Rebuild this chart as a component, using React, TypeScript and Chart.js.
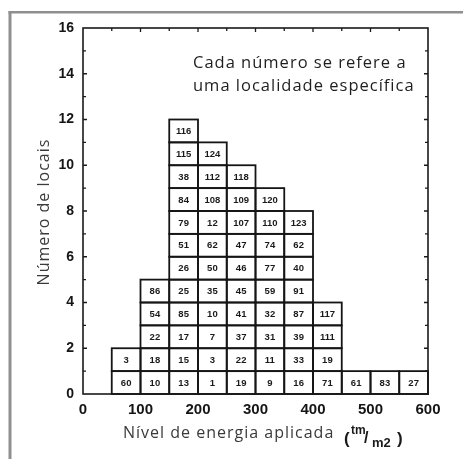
import React, { useEffect, useRef } from "react";
import { Chart, registerables } from "chart.js";

Chart.register(...registerables);

// Histogram of sites by applied energy level; each cell is one site, stacked bottom to top.
const binStarts = [50, 100, 150, 200, 250, 300, 350, 400, 450, 500, 550];
const binWidth = 50;

const sites50 = [60, 3];
const sites100 = [10, 18, 22, 54, 86];
const sites150 = [13, 15, 17, 85, 25, 26, 51, 79, 84, 38, 115, 116];
const sites200 = [1, 3, 7, 10, 35, 50, 62, 12, 108, 112, 124];
const sites250 = [19, 22, 37, 41, 45, 46, 47, 107, 109, 118];
const sites300 = [9, 11, 31, 32, 59, 77, 74, 110, 120];
const sites350 = [16, 33, 39, 87, 91, 40, 62, 123];
const sites400 = [71, 19, 111, 117];
const sites450 = [61];
const sites500 = [83];
const sites550 = [27];

const columns = [
  sites50, sites100, sites150, sites200, sites250, sites300,
  sites350, sites400, sites450, sites500, sites550,
];

const xTickValues = [0, 100, 200, 300, 400, 500, 600];
const yTickValues = [0, 2, 4, 6, 8, 10, 12, 14, 16];

const noteLines = ["Cada número se refere a", "uma localidade específica"];
const xTitle = "Nível de energia aplicada";
const yTitle = "Número de locais";

const tickFont = '"Liberation Sans", Arial, sans-serif';
const textFont = '"Open Sans", "Noto Sans", sans-serif';

export default function App() {
  const canvasRef = useRef<HTMLCanvasElement | null>(null);

  useEffect(() => {
    const canvas = canvasRef.current;
    if (!canvas) return;

    const levels = Math.max(...columns.map((c) => c.length));
    const datasets = [];
    for (let k = 0; k < levels; k++) {
      const pts: { x: number; y: number; site: number }[] = [];
      columns.forEach((col, i) => {
        if (col.length > k) {
          pts.push({ x: binStarts[i] + binWidth / 2, y: 1, site: col[k] });
        }
      });
      datasets.push({
        label: "nível " + k,
        data: pts,
        backgroundColor: "#ffffff",
        borderWidth: 0,
        barPercentage: 1,
        categoryPercentage: 1,
      });
    }

    const framePlugin = {
      id: "frame",
      beforeDraw(chart: any) {
        const ctx = chart.ctx;
        ctx.save();
        ctx.fillStyle = "#ffffff";
        ctx.fillRect(0, 0, chart.width, chart.height);
        ctx.fillStyle = "#8f8f8f";
        ctx.fillRect(8.5, 11, 3, chart.height);
        ctx.fillRect(8.5, 11, chart.width, 2.5);
        ctx.restore();
      },
    };

    const cellPlugin = {
      id: "cells",
      afterDatasetsDraw(chart: any) {
        const ctx = chart.ctx;
        ctx.save();
        ctx.strokeStyle = "#151515";
        ctx.lineWidth = 1.8;
        chart.data.datasets.forEach((ds: any, di: number) => {
          const meta = chart.getDatasetMeta(di);
          meta.data.forEach((el: any, j: number) => {
            const p = el.getProps(["x", "y", "base", "width"], true);
            const left = p.x - p.width / 2;
            const top = Math.min(p.y, p.base);
            const h = Math.abs(p.base - p.y);
            ctx.strokeRect(left, top, p.width, h);
            ctx.fillStyle = "#1a1a1a";
            ctx.font = "bold 9.5px " + tickFont;
            ctx.textAlign = "center";
            ctx.textBaseline = "middle";
            ctx.fillText(String(ds.data[j].site), p.x, top + h / 2 + 0.5);
          });
        });
        ctx.restore();
      },
    };

    const axesPlugin = {
      id: "axesBox",
      afterDraw(chart: any) {
        const ctx = chart.ctx;
        const { left, right, top, bottom } = chart.chartArea;
        const xs = chart.scales.x;
        const ys = chart.scales.y;
        ctx.save();
        ctx.strokeStyle = "#1a1a1a";
        ctx.lineWidth = 1.6;
        ctx.strokeRect(left, top, right - left, bottom - top);

        // inward ticks: left and right every unit, top every bin width
        ctx.lineWidth = 1.3;
        ctx.beginPath();
        for (let v = 1; v < 16; v++) {
          const y = ys.getPixelForValue(v);
          const len = v % 2 === 0 ? 4 : 3;
          ctx.moveTo(left, y);
          ctx.lineTo(left + len, y);
          ctx.moveTo(right, y);
          ctx.lineTo(right - len, y);
        }
        for (let v = binWidth; v < 600; v += binWidth) {
          const x = xs.getPixelForValue(v);
          const len = v % 100 === 0 ? 4 : 3;
          ctx.moveTo(x, top);
          ctx.lineTo(x, top + len);
        }
        ctx.stroke();

        // note
        ctx.fillStyle = "#1e1e1e";
        ctx.font = "16.5px " + textFont;
        ctx.letterSpacing = "1px";
        ctx.textAlign = "left";
        ctx.textBaseline = "middle";
        ctx.fillText(noteLines[0], 193, 63);
        ctx.fillText(noteLines[1], 193, 86);

        // y title
        ctx.fillStyle = "#3a3a3a";
        ctx.save();
        ctx.translate(44, 212);
        ctx.rotate(-Math.PI / 2);
        ctx.textAlign = "center";
        ctx.font = "16px " + textFont;
        ctx.fillText(yTitle, 0, 0);
        ctx.restore();

        // x title with unit
        ctx.font = "16px " + textFont;
        ctx.textAlign = "left";
        ctx.fillText(xTitle, 123, 433);
        ctx.letterSpacing = "0px";
        ctx.fillStyle = "#1a1a1a";
        ctx.textBaseline = "alphabetic";
        ctx.font = "bold 17px " + tickFont;
        ctx.fillText("(", 344, 444);
        ctx.font = "bold 12px " + tickFont;
        ctx.fillText("tm", 351, 434);
        ctx.font = "bold 16px " + tickFont;
        ctx.fillText("/", 364, 443);
        ctx.font = "bold 13px " + tickFont;
        ctx.fillText("m2", 372, 447);
        ctx.font = "bold 17px " + tickFont;
        ctx.fillText(")", 397, 444);
        ctx.restore();
      },
    };

    const chart = new Chart(canvas, {
      type: "bar",
      data: { datasets: datasets as any },
      options: {
        animation: false,
        responsive: false,
        maintainAspectRatio: false,
        layout: { padding: { left: 0, top: 28, right: 35, bottom: 0 } },
        plugins: {
          legend: { display: false },
          tooltip: { enabled: false },
        },
        scales: {
          x: {
            type: "linear",
            stacked: true,
            offset: false,
            min: 0,
            max: 600,
            afterFit(scale: any) {
              scale.height = 65;
            },
            afterBuildTicks(scale: any) {
              scale.ticks = xTickValues.map((v) => ({ value: v }));
            },
            grid: { display: false, drawTicks: false, offset: false },
            border: { display: false },
            ticks: {
              padding: 7,
              color: "#151515",
              font: { family: tickFont, size: 15, weight: "bold" },
              maxRotation: 0,
            },
          },
          y: {
            stacked: true,
            min: 0,
            max: 16,
            afterFit(scale: any) {
              scale.width = 83;
            },
            afterBuildTicks(scale: any) {
              scale.ticks = yTickValues.map((v) => ({ value: v }));
            },
            grid: { display: false, drawTicks: false },
            border: { display: false },
            ticks: {
              padding: 9,
              color: "#151515",
              font: { family: tickFont, size: 14, weight: "bold" },
            },
          },
        },
      },
      plugins: [framePlugin, cellPlugin, axesPlugin],
    });

    return () => chart.destroy();
  }, []);

  return (
    <div style={{ position: "fixed", left: 0, top: 0, width: 463, height: 459, background: "#fff" }}>
      <canvas ref={canvasRef} width={463} height={459} style={{ width: 463, height: 459, display: "block" }} />
    </div>
  );
}
